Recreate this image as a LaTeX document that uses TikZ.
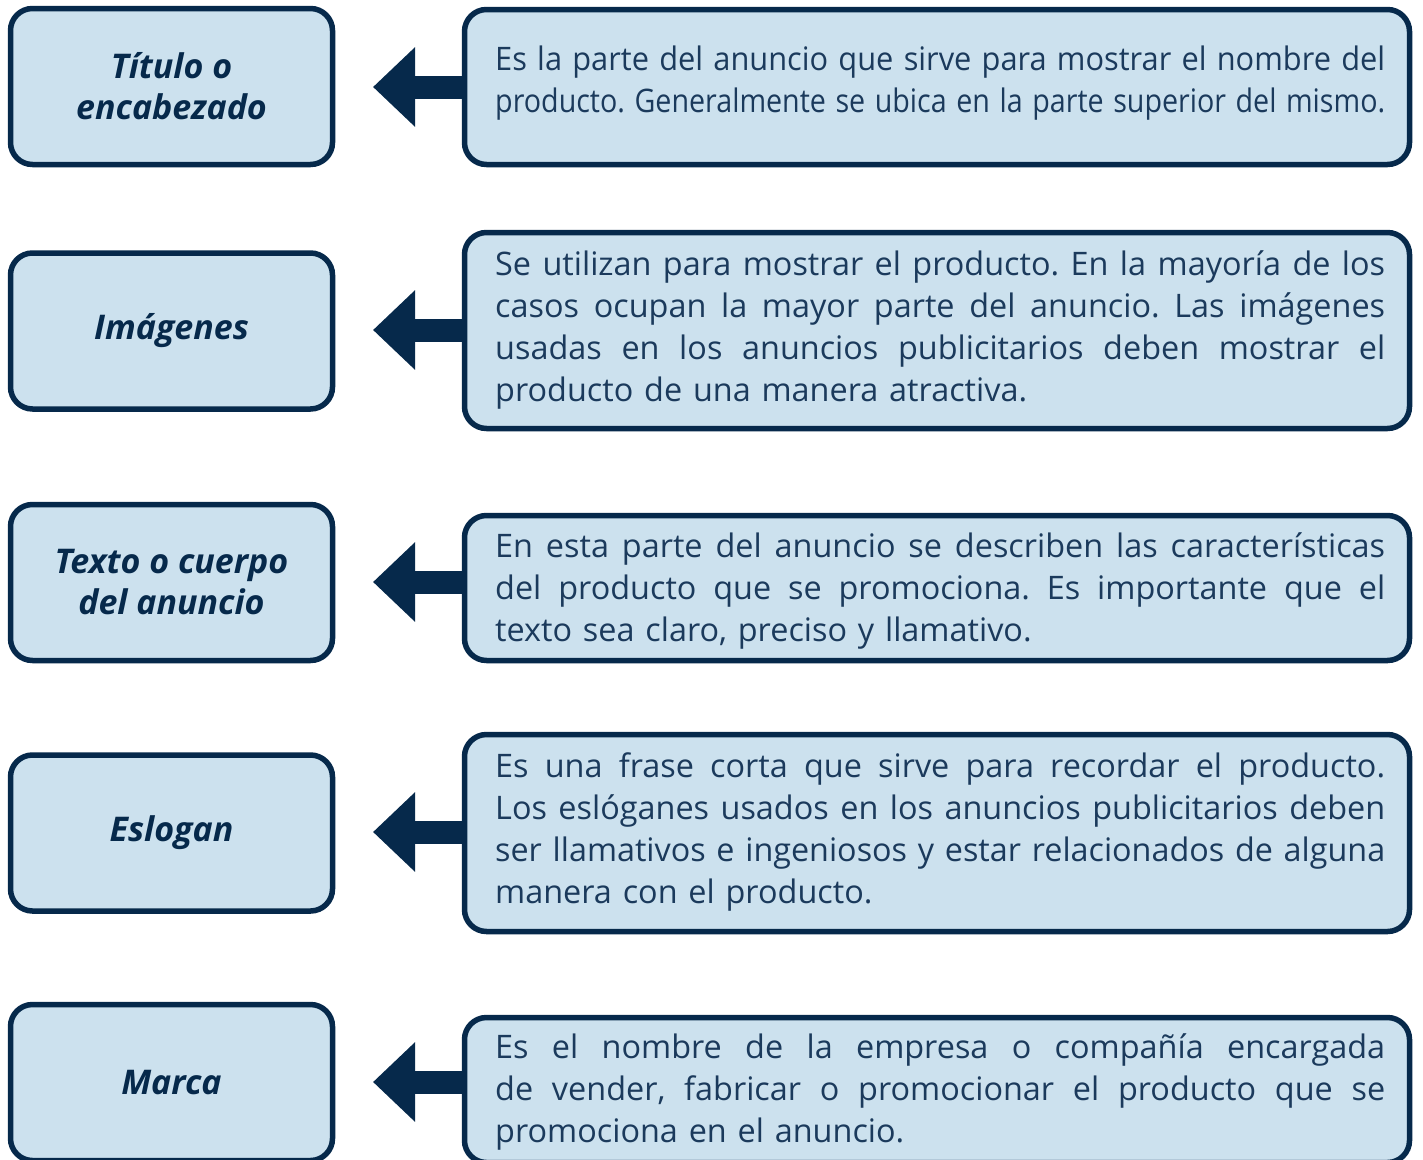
\documentclass[tikz,border=0pt]{standalone}
\usepackage{fontspec}
\usepackage{graphicx}
\setmainfont{Open Sans}
\newfontfamily\lbfont{Open Sans}
\usetikzlibrary{arrows.meta}
\definecolor{navy}{HTML}{06294B}
\definecolor{boxfill}{HTML}{CCE1EE}
\definecolor{bodytext}{HTML}{1B3A5C}
\frenchspacing
\newcommand\jline[1]{\leavevmode\setbox0\hbox{#1}\ifdim\wd0>890pt\resizebox{890pt}{\height}{#1}\else{\spaceskip=\fontdimen2\font plus 1fil minus 0pt\relax\hbox to 890pt{#1}}\fi}
\begin{document}
\begin{tikzpicture}[x=1pt,y=-1pt,
  lbox/.style={draw=navy, fill=boxfill, line width=5.5pt, rounded corners=22pt,
    minimum width=322pt, minimum height=156pt, inner sep=0pt, outer sep=0pt,
    font=\lbfont\bfseries\itshape\fontsize{34}{41}\selectfont, text=navy, align=center},
  rbox/.style={draw=navy, fill=boxfill, line width=5.5pt, rounded corners=22pt,
    minimum width=945pt, inner sep=0pt, outer sep=0pt},
  body/.style={anchor=base west, inner sep=0pt, text width=890pt, align=left,
    font=\fontsize{32.4}{42.3}\selectfont, text=bodytext},
  fat/.style={draw=navy, line width=23pt, -{Triangle[length=42pt,width=77pt]}}
]
\useasboundingbox (0,0) rectangle (1423,1159);

% left boxes
\node[lbox] (l1) at (171.5,86.5) {Título o\\encabezado};
\node[lbox] (l2) at (171.5,331) {Imágenes};
\node[lbox] (l3) at (171.5,582.5) {Texto o cuerpo\\del anuncio};
\node[lbox] (l4) at (171.5,833) {Eslogan};
\node[lbox] (l5) at (171.5,1082.5) {Marca};

% right boxes
\node[rbox, minimum height=155pt] (r1) at (937,87) {};
\node[rbox, minimum height=196pt] (r2) at (937,330.5) {};
\node[rbox, minimum height=145pt] (r3) at (937,588) {};
\node[rbox, minimum height=197pt] (r4) at (937,833) {};
\node[rbox, minimum height=145pt] (r5) at (937,1090) {};

% texts
\node[body] (t1) at (495,70) {\jline{Es la parte del anuncio que sirve para mostrar el nombre del}\\
\jline{producto. Generalmente se ubica en la parte superior del mismo.}};
\node[body] (t2) at (495,275) {\jline{Se utilizan para mostrar el producto. En la mayoría de los}\\
\jline{casos ocupan la mayor parte del anuncio. Las imágenes}\\
\jline{usadas en los anuncios publicitarios deben mostrar el}\\
producto de una manera atractiva.};
\node[body] (t3) at (495,557) {\jline{En esta parte del anuncio se describen las características}\\
\jline{del producto que se promociona. Es importante que el}\\
texto sea claro, preciso y llamativo.};
\node[body] (t4) at (495,777) {\jline{Es una frase corta que sirve para recordar el producto.}\\
\jline{Los eslóganes usados en los anuncios publicitarios deben}\\
\jline{ser llamativos e ingeniosos y estar relacionados de alguna}\\
manera con el producto.};
\node[body] (t5) at (495,1058) {\jline{Es el nombre de la empresa o compañía encargada}\\
\jline{de vender, fabricar o promocionar el producto que se}\\
promociona en el anuncio.};

% arrows
\coordinate (a1) at (373,87);
\coordinate (a2) at (373,330);
\coordinate (a3) at (373,582);
\coordinate (a4) at (373,832);
\coordinate (a5) at (373,1082);
\draw[fat] (r1.west |- a1) -- (a1);
\draw[fat] (r2.west |- a2) -- (a2);
\draw[fat] (r3.west |- a3) -- (a3);
\draw[fat] (r4.west |- a4) -- (a4);
\draw[fat] (r5.west |- a5) -- (a5);
\end{tikzpicture}
\end{document}
